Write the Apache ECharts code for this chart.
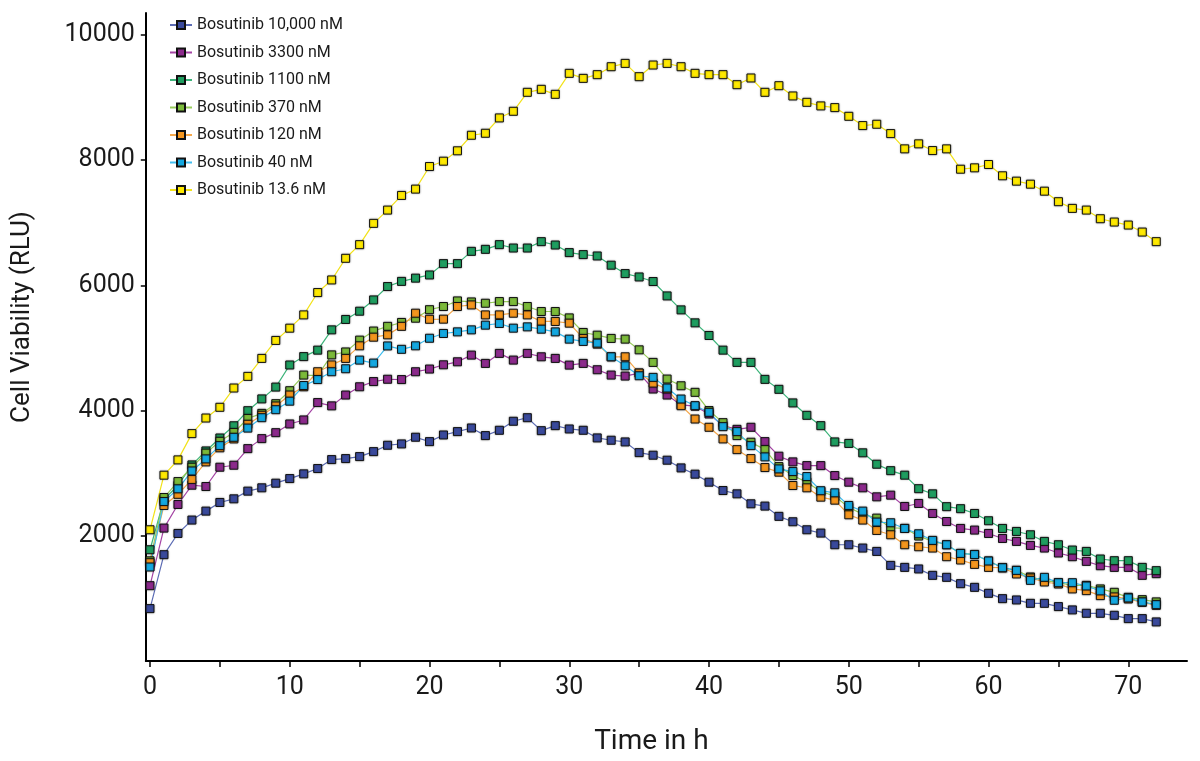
<!DOCTYPE html>
<html>
<head>
<meta charset="utf-8">
<script src="https://cdn.jsdelivr.net/npm/echarts@6/dist/echarts.min.js"></script>
<style>
html,body{margin:0;padding:0;background:#fff;}
#chart{width:1200px;height:761px;}
</style>
</head>
<body>
<div id="chart"></div>
<script>
const hours = [0,1,2,3,4,5,6,7,8,9,10,11,12,13,14,15,16,17,18,19,20,21,22,23,24,25,26,27,28,29,30,31,32,33,34,35,36,37,38,39,40,41,42,43,44,45,46,47,48,49,50,51,52,53,54,55,56,57,58,59,60,61,62,63,64,65,66,67,68,69,70,71,72];

const bos10000 = [837,1698,2037,2251,2394,2532,2590,2713,2766,2840,2914,2989,3074,3217,3233,3265,3344,3446,3467,3574,3504,3610,3664,3722,3600,3685,3829,3886,3679,3759,3706,3685,3563,3526,3499,3328,3287,3207,3084,2984,2856,2723,2670,2511,2474,2310,2224,2096,2043,1857,1857,1804,1750,1527,1495,1470,1368,1336,1235,1176,1081,996,975,921,921,869,816,762,762,730,677,677,624];

const bos3300 = [1203,2123,2500,2808,2787,3095,3127,3392,3552,3647,3786,3850,4128,4075,4248,4380,4463,4500,4495,4620,4663,4731,4779,4886,4753,4913,4806,4913,4859,4833,4726,4753,4652,4567,4551,4599,4344,4248,4090,4070,3945,3760,3700,3733,3504,3271,3180,3121,3121,2962,2856,2766,2622,2649,2468,2516,2356,2228,2117,2091,2037,1957,1910,1846,1804,1725,1666,1591,1522,1495,1495,1368,1395];

const bos1100 = [1777,2580,2803,3132,3355,3562,3757,3998,4186,4375,4728,4862,4965,5289,5455,5587,5767,5981,6063,6115,6166,6347,6347,6543,6575,6650,6596,6596,6698,6644,6523,6491,6469,6322,6188,6134,6061,5831,5608,5401,5199,4965,4769,4769,4498,4339,4122,3924,3759,3499,3475,3325,3143,3040,2968,2752,2670,2465,2433,2356,2240,2117,2069,2016,1910,1857,1772,1750,1629,1602,1602,1495,1443];

const bos370 = [1600,2611,2866,3095,3320,3509,3650,3874,3955,4110,4317,4567,4560,4889,4936,5125,5270,5345,5407,5475,5611,5662,5751,5735,5714,5741,5741,5662,5582,5582,5480,5247,5204,5152,5141,4970,4769,4503,4396,4291,4000,3807,3600,3494,3376,3105,2962,2856,2707,2633,2452,2346,2282,2128,2117,1996,1910,1857,1718,1702,1597,1490,1447,1342,1288,1251,1208,1208,1151,1097,1017,980,944];

const bos120 = [1570,2484,2662,2900,3180,3405,3547,3781,3925,4073,4248,4380,4620,4729,4833,5034,5172,5209,5345,5555,5458,5460,5662,5687,5528,5528,5555,5528,5423,5423,5396,5152,5061,4859,4859,4599,4439,4344,4078,3865,3733,3547,3376,3233,3090,3016,2803,2766,2617,2569,2335,2251,2085,2016,1857,1825,1804,1666,1613,1543,1495,1490,1390,1326,1262,1230,1151,1124,1044,1023,991,937,889];

const bos40 = [1501,2547,2750,3035,3228,3440,3573,3720,3886,4014,4150,4400,4495,4620,4668,4806,4758,5032,4978,5034,5155,5231,5257,5289,5364,5391,5316,5337,5300,5257,5141,5104,5077,4859,4715,4556,4530,4360,4184,4078,3972,3743,3664,3440,3260,3068,3026,2946,2720,2686,2484,2394,2219,2208,2117,2032,1926,1857,1718,1700,1597,1490,1447,1288,1336,1251,1251,1198,1120,970,1007,944,900];

const bos13_6 = [2096,2968,3212,3632,3881,4052,4360,4546,4833,5120,5316,5528,5885,6086,6432,6650,6990,7202,7436,7537,7898,7983,8149,8397,8429,8674,8780,9083,9131,9051,9386,9306,9365,9492,9545,9333,9519,9545,9492,9386,9365,9365,9205,9312,9083,9189,9025,8923,8866,8839,8700,8552,8573,8424,8180,8260,8153,8180,7855,7877,7930,7750,7664,7616,7504,7336,7229,7202,7064,7011,6963,6851,6698];

const seriesNames = ['Bosutinib 10,000 nM','Bosutinib 3300 nM','Bosutinib 1100 nM','Bosutinib 370 nM','Bosutinib 120 nM','Bosutinib 40 nM','Bosutinib 13.6 nM'];
const seriesValues = [bos10000, bos3300, bos1100, bos370, bos120, bos40, bos13_6];
const xTickLabels = [0,10,20,30,40,50,60,70];
const xTickMarks = [0,5,10,15,20,25,30,35,40,45,50,55,60,65,70];
const yTickLabels = [2000,4000,6000,8000,10000];

const markerColors = ['#3a4a9c','#8c2a8c','#1f9e60','#7cbb3a','#f5961e','#14a8e0','#ffea00'];
const lineColors   = ['#5c6cb4','#a444a4','#3db47a','#98cc5c','#f5a84c','#40bef0','#f2e21a'];

const FONT = 'Roboto';
const chart = echarts.init(document.getElementById('chart'), null, {renderer:'canvas'});

const series = seriesNames.map((name, i) => ({
  name: name,
  type: 'line',
  data: hours.map((h, j) => [h, seriesValues[i][j]]),
  symbol: 'rect',
  symbolSize: 8,
  showAllSymbol: true,
  animation: false,
  lineStyle: { color: lineColors[i], width: 1.2 },
  itemStyle: { color: markerColors[i], borderColor: '#111', borderWidth: 1, shadowColor: 'rgba(0,0,0,0.3)', shadowBlur: 2 },
  emphasis: { disabled: true },
  z: 2
}));

chart.setOption({
  backgroundColor: '#ffffff',
  animation: false,
  textStyle: { fontFamily: FONT },
  grid: { left: 145.8, right: 13, top: 13, bottom: 98.5, containLabel: false },
  legend: {
    orient: 'vertical',
    left: 164,
    top: 10,
    itemWidth: 22,
    itemHeight: 10,
    itemGap: 7.5,
    textStyle: { fontFamily: FONT, fontSize: 16, color: '#1a1a1a', lineHeight: 20 },
    data: seriesNames
  },
  xAxis: {
    type: 'value',
    min: -0.3,
    max: 74.2,
    name: 'Time in h',
    nameLocation: 'middle',
    nameGap: 67,
    nameTextStyle: { fontFamily: FONT, fontSize: 28, color: '#1a1a1a', padding: [0, 30, 0, 0] },
    splitLine: { show: false },
    axisLine: { show: true, onZero: false, lineStyle: { color: '#000', width: 2 } },
    axisTick: { show: true, inside: false, length: 6, customValues: xTickMarks, lineStyle: { color: '#000', width: 1.5 } },
    axisLabel: { customValues: xTickLabels, fontFamily: FONT, fontSize: 25, color: '#1a1a1a', margin: 14, formatter: v => String(v) }
  },
  yAxis: {
    type: 'value',
    min: 0,
    max: 10350,
    name: 'Cell Viability (RLU)',
    nameLocation: 'middle',
    nameRotate: 90,
    nameGap: 110,
    nameTextStyle: { fontFamily: FONT, fontSize: 26, color: '#1a1a1a', padding: [0, 0, 0, 40] },
    splitLine: { show: false },
    axisLine: { show: true, onZero: false, lineStyle: { color: '#000', width: 2 } },
    axisTick: { show: true, inside: false, length: 5, customValues: yTickLabels, lineStyle: { color: '#000', width: 1.5 } },
    axisLabel: { customValues: yTickLabels, fontFamily: FONT, fontSize: 25, color: '#1a1a1a', margin: 11, formatter: v => String(v) }
  },
  series: series
});
</script>
</body>
</html>
